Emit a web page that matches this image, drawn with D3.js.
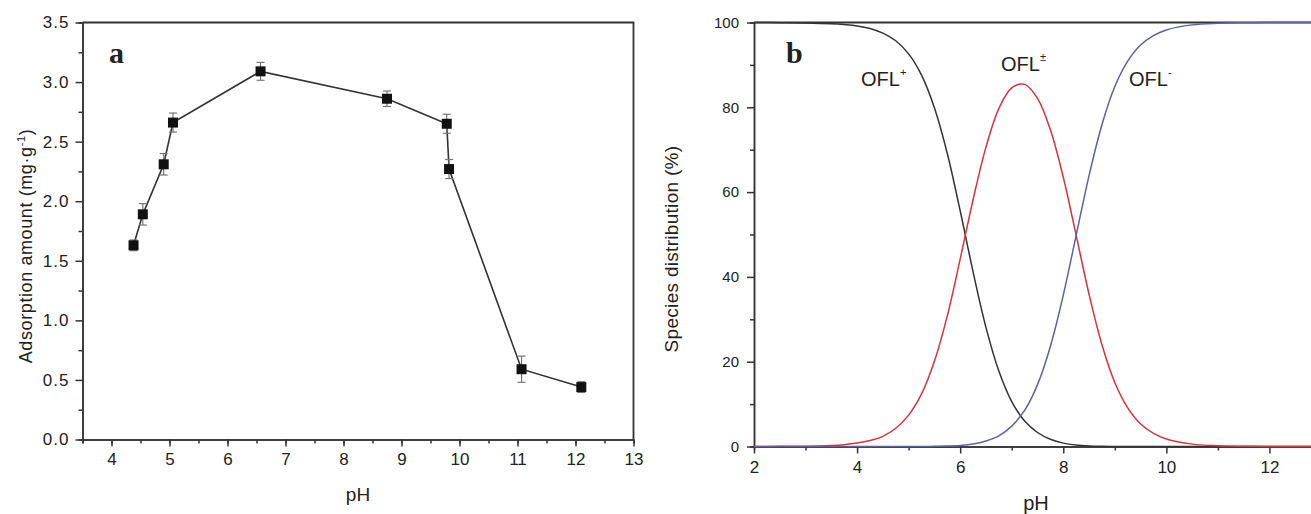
<!DOCTYPE html>
<html>
<head>
<meta charset="utf-8">
<script src="https://cdn.jsdelivr.net/npm/d3@7"></script>
<style>
  body { margin: 0; background: #fff; }
  svg text { font-family: "Liberation Sans", Arial, sans-serif; fill: #222; }
  .axis path, .axis line { stroke: #333; stroke-width: 1.5; }
  .axis text { fill: #222; }
</style>
</head>
<body>
<svg id="chart" width="1311" height="514"></svg>
<script>
// panel a: adsorption vs pH
const phA = [4.38, 4.54, 4.90, 5.06, 6.57, 8.75, 9.78, 9.82, 11.07, 12.10];
const adsorption = [1.63, 1.89, 2.31, 2.66, 3.09, 2.86, 2.65, 2.27, 0.59, 0.44];
const adsErr = [0.045, 0.09, 0.09, 0.08, 0.075, 0.065, 0.08, 0.08, 0.11, 0.045];
const ticksAx = [4, 5, 6, 7, 8, 9, 10, 11, 12, 13];
const ticksAy = [0, 0.5, 1, 1.5, 2, 2.5, 3, 3.5];

// panel b: species distribution (%)
const phB = [2, 2.5, 3, 3.5, 3.75, 4, 4.25, 4.5, 4.75, 5, 5.25, 5.5, 5.75, 6, 6.25, 6.5, 6.75,
  7, 7.25, 7.5, 7.75, 8, 8.25, 8.5, 8.75, 9, 9.25, 9.5, 9.75, 10, 10.5, 11, 11.5, 12, 13];
const cation = [100, 99.97, 99.9, 99.7, 99.5, 99.2, 98.6, 97.5, 95.7, 92.6, 87.6, 79.9, 69.1, 55.6, 41.2,
  28.1, 17.8, 10.6, 6.0, 3.3, 1.7, 0.8, 0.35, 0.14, 0.05, 0.02, 0, 0, 0, 0, 0, 0, 0, 0, 0];
const zwitter = [0, 0.03, 0.08, 0.25, 0.44, 0.8, 1.4, 2.4, 4.3, 7.4, 12.4, 20.1, 30.8, 44.2, 58.2,
  70.6, 79.7, 84.6, 85.4, 82.1, 74.7, 63.5, 49.8, 35.9, 24.0, 15.1, 9.1, 5.3, 3.1, 1.75, 0.56, 0.18, 0.06, 0.02, 0];
const anion = [0, 0, 0, 0, 0, 0, 0, 0, 0, 0, 0.01, 0.04, 0.1, 0.25, 0.58, 1.3, 2.5, 4.8, 8.5, 14.6,
  23.6, 35.7, 49.8, 63.9, 75.9, 84.9, 90.9, 94.7, 96.9, 98.25, 99.44, 99.82, 99.94, 99.98, 100];
const ticksBx = [2, 4, 6, 8, 10, 12];
const ticksBy = [0, 20, 40, 60, 80, 100];

const svg = d3.select("#chart");

// ---------- panel a ----------
const xA = d3.scaleLinear().domain([3.5, 13]).range([82.5, 633.5]);
const yA = d3.scaleLinear().domain([0, 3.5]).range([439.5, 22.5]);
const gA = svg.append("g");

// minor ticks
gA.append("g").attr("class", "axis").attr("transform", "translate(0,439.5)")
  .call(d3.axisBottom(xA).tickValues(d3.range(3.5, 13, 0.5)).tickSize(4).tickFormat(""));
gA.append("g").attr("class", "axis").attr("transform", "translate(82.5,0)")
  .call(d3.axisLeft(yA).tickValues(d3.range(0.25, 3.5, 0.5)).tickSize(4).tickFormat(""));

gA.append("g").attr("class", "axis").attr("transform", "translate(0,439.5)")
  .call(d3.axisBottom(xA).tickValues(ticksAx).tickSize(7).tickSizeOuter(0).tickPadding(6))
  .selectAll("text").style("font-size", "17px");
gA.append("g").attr("class", "axis").attr("transform", "translate(82.5,0)")
  .call(d3.axisLeft(yA).tickValues(ticksAy).tickSize(7).tickSizeOuter(0).tickPadding(6).tickFormat(d3.format(".1f")))
  .selectAll("text").style("font-size", "17px").attr("letter-spacing", "1px");
// frame top/right
gA.append("path").attr("fill", "none").attr("stroke", "#333").attr("stroke-width", 1.8)
  .attr("d", `M${xA(3.5)},${yA(3.5)}H${xA(13)}V${yA(0)}`);

const ptsA = phA.map((p, i) => ({ x: p, y: adsorption[i], e: adsErr[i] }));
gA.append("path").datum(ptsA).attr("fill", "none").attr("stroke", "#333").attr("stroke-width", 1.6)
  .attr("d", d3.line().x(d => xA(d.x)).y(d => yA(d.y)));

const eb = gA.selectAll(".eb").data(ptsA).join("g").attr("stroke", "#777").attr("stroke-width", 1.2);
eb.append("line").attr("x1", d => xA(d.x)).attr("x2", d => xA(d.x))
  .attr("y1", d => yA(d.y - d.e)).attr("y2", d => yA(d.y + d.e));
eb.append("line").attr("x1", d => xA(d.x) - 4).attr("x2", d => xA(d.x) + 4)
  .attr("y1", d => yA(d.y - d.e)).attr("y2", d => yA(d.y - d.e));
eb.append("line").attr("x1", d => xA(d.x) - 4).attr("x2", d => xA(d.x) + 4)
  .attr("y1", d => yA(d.y + d.e)).attr("y2", d => yA(d.y + d.e));

gA.selectAll(".pt").data(ptsA).join("rect")
  .attr("x", d => xA(d.x) - 5).attr("y", d => yA(d.y) - 5)
  .attr("width", 10).attr("height", 10).attr("fill", "#111");

gA.append("text").attr("x", 109).attr("y", 63)
  .style("font-family", "'Liberation Serif', serif").style("font-weight", "bold").style("font-size", "30px")
  .text("a");
gA.append("text").attr("x", 358).attr("y", 501).attr("text-anchor", "middle").style("font-size", "19px").text("pH");
const labA = gA.append("text").attr("transform", "translate(32,246) rotate(-90)")
  .attr("text-anchor", "middle").style("font-size", "18px").attr("letter-spacing", "0.6px");
labA.append("tspan").text("Adsorption amount (mg·g");
labA.append("tspan").attr("dy", -7).style("font-size", "11px").text("-1");
labA.append("tspan").attr("dy", 7).text(")");

// ---------- panel b ----------
const xB = d3.scaleLinear().domain([2, 13]).range([754, 1321]);
const yB = d3.scaleLinear().domain([0, 100]).range([446.5, 22.5]);
const gB = svg.append("g");

gB.append("g").attr("class", "axis").attr("transform", "translate(0,446.5)")
  .call(d3.axisBottom(xB).tickValues(d3.range(3, 13, 2)).tickSize(4).tickFormat(""));
gB.append("g").attr("class", "axis").attr("transform", "translate(754,0)")
  .call(d3.axisLeft(yB).tickValues(d3.range(10, 100, 20)).tickSize(4).tickFormat(""));

gB.append("g").attr("class", "axis").attr("transform", "translate(0,446.5)")
  .call(d3.axisBottom(xB).tickValues(ticksBx).tickSize(7).tickSizeOuter(0).tickPadding(7))
  .selectAll("text").style("font-size", "17px");
gB.append("g").attr("class", "axis").attr("transform", "translate(754,0)")
  .call(d3.axisLeft(yB).tickValues(ticksBy).tickSize(7).tickSizeOuter(0).tickPadding(8))
  .selectAll("text").style("font-size", "15px");
gB.append("path").attr("fill", "none").attr("stroke", "#333").attr("stroke-width", 1.8)
  .attr("d", `M${xB(2)},${yB(100)}H${xB(13)}V${yB(0)}`);

const curve = d3.line().curve(d3.curveCatmullRom.alpha(0.5)).x(d => xB(d[0])).y(d => yB(d[1]));
const series = [
  { vals: cation, color: "#333" },
  { vals: zwitter, color: "#e0303c" },
  { vals: anion, color: "#5a62a8" }
];
series.forEach(s => {
  gB.append("path").datum(phB.map((p, i) => [p, s.vals[i]]))
    .attr("fill", "none").attr("stroke", s.color).attr("stroke-width", 1.5).attr("d", curve);
});

gB.append("text").attr("x", 786).attr("y", 63)
  .style("font-family", "'Liberation Serif', serif").style("font-weight", "bold").style("font-size", "30px")
  .text("b");

const speciesLabels = [
  { x: 861, y: 86, base: "OFL", sup: "+" },
  { x: 1001, y: 71, base: "OFL", sup: "±" },
  { x: 1129, y: 86, base: "OFL", sup: "-" }
];
speciesLabels.forEach(l => {
  const t = gB.append("text").attr("x", l.x).attr("y", l.y).style("font-size", "20px");
  t.append("tspan").text(l.base);
  t.append("tspan").attr("dy", -10).style("font-size", "11px").text(l.sup);
});

gB.append("text").attr("x", 1036).attr("y", 510).attr("text-anchor", "middle").style("font-size", "20px").text("pH");
gB.append("text").attr("transform", "translate(678,249) rotate(-90)")
  .attr("text-anchor", "middle").style("font-size", "19px").attr("letter-spacing", "0.3px").text("Species distribution (%)");
</script>
</body>
</html>
